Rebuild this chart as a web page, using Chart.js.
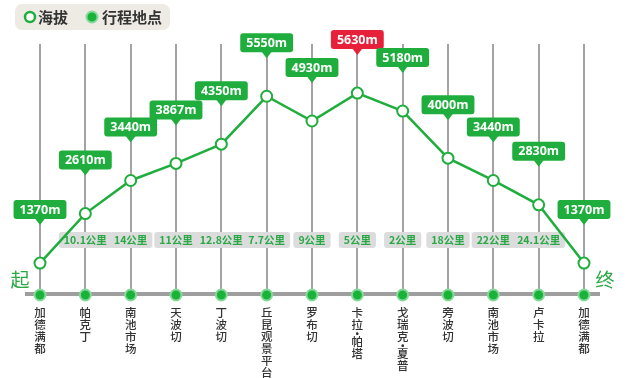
<!DOCTYPE html>
<html><head><meta charset="utf-8">
<style>html,body{margin:0;padding:0;background:#fff}#wrap{width:640px;height:378px}</style>
<script src="https://cdn.jsdelivr.net/npm/chart.js@4"></script>
</head><body>
<div id="wrap"><canvas id="c" width="640" height="378"></canvas></div>
<script>
const categories = ['加德满都','帕克丁','南池市场','天波切','丁波切','丘昆观景平台','罗布切','卡拉•帕塔','戈瑞克•夏普','旁波切','南池市场','卢卡拉','加德满都'];
const altitudes = [1370,2610,3440,3867,4350,5550,4930,5630,5180,4000,3440,2830,1370];
const distances = [null,10.1,14,11,12.8,7.7,9,5,2,18,22,24.1,null];
const altitudeUnit = 'm';
const distanceUnit = '公里';
const legendLabels = ['海拔','行程地点'];
const startLabel = '起';
const endLabel = '终';

const Y_MIN = 570, Y_MAX = 6860;
const stops = categories.map(() => Y_MIN);

const GREEN = '#1fae3d';
const RED = '#e8213b';
const CJK = '"Noto Sans CJK SC","Noto Sans",sans-serif';

function rr(ctx, x, y, w, h, r) {
  ctx.beginPath();
  ctx.moveTo(x + r, y);
  ctx.lineTo(x + w - r, y);
  ctx.arcTo(x + w, y, x + w, y + r, r);
  ctx.lineTo(x + w, y + h - r);
  ctx.arcTo(x + w, y + h, x + w - r, y + h, r);
  ctx.lineTo(x + r, y + h);
  ctx.arcTo(x, y + h, x, y + h - r, r);
  ctx.lineTo(x, y + r);
  ctx.arcTo(x, y, x + r, y, r);
  ctx.closePath();
}

const deco = {
  id: 'deco',
  beforeDatasetsDraw(chart) {
    const { ctx, chartArea: a, scales: { x, y } } = chart;
    const base = y.getPixelForValue(Y_MIN);
    ctx.save();
    ctx.strokeStyle = '#a3a3a3';
    ctx.lineWidth = 2;
    categories.forEach((c, i) => {
      const px = Math.round(x.getPixelForValue(i));
      ctx.beginPath();
      ctx.moveTo(px, a.top);
      ctx.lineTo(px, base);
      ctx.stroke();
    });
    ctx.strokeStyle = '#9e9e9e';
    ctx.lineWidth = 4;
    ctx.beginPath();
    ctx.moveTo(a.left - 15, base - 1);
    ctx.lineTo(a.right + 16, base - 1);
    ctx.stroke();
    ctx.font = 'bold 10.5px ' + CJK;
    ctx.textAlign = 'center';
    ctx.textBaseline = 'middle';
    distances.forEach((d, i) => {
      if (d == null) return;
      const px = x.getPixelForValue(i);
      const t = d + distanceUnit;
      const w = ctx.measureText(t).width + 10;
      ctx.fillStyle = '#dcdcdc';
      rr(ctx, px - w / 2, 232, w, 16, 3);
      ctx.fill();
      ctx.fillStyle = '#2aa845';
      ctx.fillText(t, px, 240.5);
    });
    ctx.fillStyle = '#333';
    ctx.font = '500 11.5px ' + CJK;
    categories.forEach((c, i) => {
      const px = x.getPixelForValue(i);
      let cy = 313;
      for (const ch of c) {
        if (ch === '•') {
          ctx.fillText(ch, px, cy - 3);
          cy += 5;
          continue;
        }
        ctx.fillText(ch, px, cy);
        cy += 12;
      }
    });
    ctx.restore();
  },
  afterDatasetsDraw(chart) {
    const { ctx } = chart;
    const meta = chart.getDatasetMeta(0);
    const maxV = Math.max(...altitudes);
    ctx.save();
    ctx.font = 'bold 12.5px "Open Sans",' + CJK;
    ctx.textAlign = 'center';
    ctx.textBaseline = 'middle';
    meta.data.forEach((pt, i) => {
      const v = altitudes[i];
      const t = v + altitudeUnit;
      const tip = pt.y - 38;
      const w = ctx.measureText(t).width + 12;
      const h = 19;
      const by = tip - 6 - h;
      ctx.fillStyle = v === maxV ? RED : GREEN;
      rr(ctx, pt.x - w / 2, by, w, h, 3);
      ctx.fill();
      ctx.beginPath();
      ctx.moveTo(pt.x - 5, by + h - 0.5);
      ctx.lineTo(pt.x + 5, by + h - 0.5);
      ctx.lineTo(pt.x, tip);
      ctx.closePath();
      ctx.fill();
      ctx.fillStyle = '#fff';
      ctx.fillText(t, pt.x, by + h / 2 + 0.5);
    });
    ctx.restore();
  },
  afterDraw(chart) {
    const { ctx } = chart;
    ctx.save();
    ctx.fillStyle = '#edebe3';
    rr(ctx, 15, 4, 155, 26, 7);
    ctx.fill();
    ctx.lineWidth = 2.5;
    ctx.strokeStyle = GREEN;
    ctx.fillStyle = '#fff';
    ctx.beginPath(); ctx.arc(30, 17, 5, 0, Math.PI * 2); ctx.fill(); ctx.stroke();
    ctx.fillStyle = '#19b33a';
    ctx.strokeStyle = '#86d99b';
    ctx.lineWidth = 2;
    ctx.beginPath(); ctx.arc(92, 17, 5.5, 0, Math.PI * 2); ctx.fill(); ctx.stroke();
    ctx.fillStyle = '#333';
    ctx.font = 'bold 15px ' + CJK;
    ctx.textAlign = 'left';
    ctx.textBaseline = 'middle';
    ctx.fillText(legendLabels[0], 38, 17.5);
    ctx.fillText(legendLabels[1], 102, 17.5);
    ctx.fillStyle = '#2aa845';
    ctx.font = '19px ' + CJK;
    ctx.textAlign = 'center';
    ctx.fillText(startLabel, 20, 280);
    ctx.fillText(endLabel, 605, 280);
    ctx.restore();
  }
};

new Chart(document.getElementById('c'), {
  type: 'line',
  data: {
    labels: categories,
    datasets: [
      { label: legendLabels[0], data: altitudes, borderColor: GREEN, borderWidth: 2.5,
        pointRadius: 5.5, pointBackgroundColor: '#fff', pointBorderColor: GREEN, pointBorderWidth: 2,
        tension: 0, clip: false, fill: false },
      { label: legendLabels[1], data: stops, showLine: false, pointRadius: 5.5,
        pointBackgroundColor: '#19b33a', pointBorderColor: '#86d99b', pointBorderWidth: 2, clip: false }
    ]
  },
  options: {
    responsive: false,
    animation: false,
    layout: { padding: { left: 40, right: 56, top: 44, bottom: 83 } },
    scales: {
      x: { display: false, offset: false },
      y: { display: false, min: Y_MIN, max: Y_MAX }
    },
    plugins: { legend: { display: false }, tooltip: { enabled: false } }
  },
  plugins: [deco]
});
</script>
</body></html>
